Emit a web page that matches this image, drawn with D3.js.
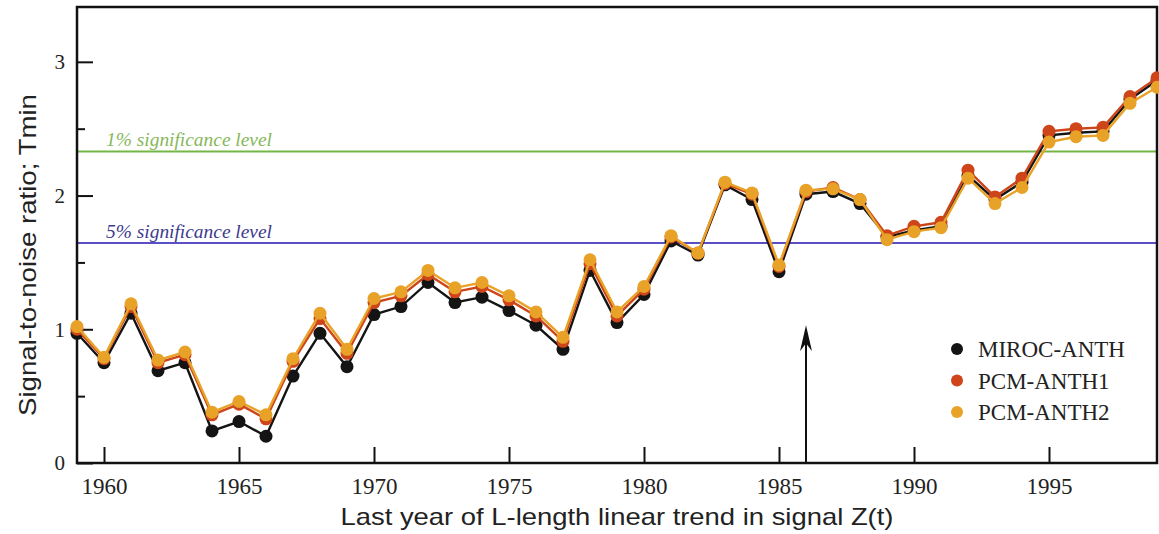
<!DOCTYPE html>
<html>
<head>
<meta charset="utf-8">
<script src="https://cdn.jsdelivr.net/npm/d3@7"></script>
<style>
  body { margin: 0; background: #fff; }
  svg { display: block; }
</style>
</head>
<body>
<div id="chart"></div>
<script>
// data, one value per year 1959-1999
var years = d3.range(1959, 2000);
var miroc = [0.97, 0.75, 1.12, 0.69, 0.75, 0.24, 0.31, 0.20, 0.65, 0.97,
             0.72, 1.11, 1.17, 1.35, 1.20, 1.24, 1.14, 1.03, 0.85, 1.44,
             1.05, 1.26, 1.66, 1.555, 2.08, 1.97, 1.43, 2.01, 2.03, 1.94,
             1.69, 1.74, 1.77, 2.15, 1.97, 2.10, 2.45, 2.47, 2.48, 2.72, 2.86];
var pcm1  = [1.00, 0.78, 1.17, 0.75, 0.81, 0.36, 0.44, 0.33, 0.76, 1.08,
             0.82, 1.20, 1.25, 1.41, 1.28, 1.32, 1.22, 1.10, 0.91, 1.49,
             1.10, 1.30, 1.69, 1.57, 2.09, 2.01, 1.47, 2.03, 2.06, 1.97,
             1.70, 1.77, 1.80, 2.19, 1.99, 2.13, 2.48, 2.50, 2.51, 2.74, 2.88];
var pcm2  = [1.02, 0.79, 1.19, 0.77, 0.83, 0.38, 0.46, 0.36, 0.78, 1.12,
             0.85, 1.23, 1.28, 1.44, 1.31, 1.35, 1.25, 1.13, 0.94, 1.52,
             1.13, 1.32, 1.70, 1.57, 2.10, 2.02, 1.48, 2.04, 2.05, 1.97,
             1.67, 1.73, 1.76, 2.13, 1.94, 2.06, 2.40, 2.44, 2.45, 2.69, 2.81];
var seriesNames = ["MIROC-ANTH", "PCM-ANTH1", "PCM-ANTH2"];
var seriesColors = ["#141414", "#cd4519", "#e8a228"];
var xTicks = [1960, 1965, 1970, 1975, 1980, 1985, 1990, 1995];
var yTicks = [0, 1, 2, 3];
var yMinor = [0.5, 1.5, 2.5];
var levels = [{ v: 2.33, label: "1% significance level", line: "#74b545", text: "#86b85a" },
              { v: 1.645, label: "5% significance level", line: "#5a4fc4", text: "#3e3a8e" }];
var arrowYear = 1986;

var W = 1159, H = 534;
var margin = { top: 7, right: 2, bottom: 71, left: 77 };
var w = W - margin.left - margin.right,
    h = H - margin.top - margin.bottom;
var serif = "'Liberation Serif', 'Times New Roman', serif",
    sans = "'Liberation Sans', Arial, sans-serif";

var svg = d3.select("#chart").append("svg")
  .attr("width", W).attr("height", H);
var g = svg.append("g")
  .attr("transform", "translate(" + margin.left + "," + margin.top + ")");

var x = d3.scaleLinear().domain([1959, 1999]).range([0, w]);
var y = d3.scaleLinear().domain([0, 3.41]).range([h, 0]);

// significance levels
levels.forEach(function(d) {
  g.append("line")
    .attr("x1", 0).attr("x2", w)
    .attr("y1", y(d.v)).attr("y2", y(d.v))
    .attr("stroke", d.line).attr("stroke-width", 2);
  g.append("text")
    .attr("x", 29).attr("y", y(d.v) - 5)
    .attr("fill", d.text)
    .attr("textLength", 166).attr("lengthAdjust", "spacingAndGlyphs")
    .style("font-family", serif)
    .style("font-style", "italic")
    .style("font-size", "19px")
    .text(d.label);
});

// axes with inward ticks
g.append("g").attr("class", "xax")
  .attr("transform", "translate(0," + h + ")")
  .call(d3.axisBottom(x).tickValues(xTicks).tickFormat(d3.format("d"))
    .tickSize(-16).tickPadding(15));
g.append("g").attr("class", "yax")
  .call(d3.axisLeft(y).tickValues(yTicks).tickFormat(d3.format("d"))
    .tickSize(-16).tickPadding(12));
g.append("g")
  .call(d3.axisLeft(y).tickValues(yMinor).tickFormat("").tickSize(-8));

g.selectAll(".domain").remove();
g.selectAll(".tick line").attr("stroke", "#111").attr("stroke-width", 2);
g.selectAll(".tick text")
  .attr("fill", "#222")
  .style("font-family", serif);
g.selectAll(".xax .tick text").style("font-size", "23px");
g.selectAll(".yax .tick text").style("font-size", "21px");

// frame
g.append("rect")
  .attr("width", w).attr("height", h)
  .attr("fill", "none").attr("stroke", "#111").attr("stroke-width", 2.5);

// arrow at 1986
var ax = x(arrowYear);
var tipY = y(1.03);
g.append("line")
  .attr("x1", ax).attr("x2", ax)
  .attr("y1", h).attr("y2", tipY + 10)
  .attr("stroke", "#111").attr("stroke-width", 2);
g.append("path")
  .attr("d", "M" + ax + "," + tipY + " L" + (ax + 6) + "," + (tipY + 26) +
             " L" + ax + "," + (tipY + 18) + " L" + (ax - 6) + "," + (tipY + 26) + " Z")
  .attr("fill", "#111");

// series lines and markers
var allSeries = [miroc, pcm1, pcm2];
var line = d3.line()
  .x(function(d, i) { return x(years[i]); })
  .y(function(d) { return y(d); });

allSeries.forEach(function(vals, k) {
  g.append("path")
    .datum(vals)
    .attr("d", line)
    .attr("fill", "none")
    .attr("stroke", seriesColors[k])
    .attr("stroke-width", 2.4);
  g.selectAll(".pt" + k)
    .data(vals)
    .enter().append("circle")
    .attr("class", "pt" + k)
    .attr("cx", function(d, i) { return x(years[i]); })
    .attr("cy", function(d) { return y(d); })
    .attr("r", 6.5)
    .attr("fill", seriesColors[k]);
});

// legend
var legend = g.append("g").attr("transform", "translate(" + (957 - margin.left) + "," + (349 - margin.top) + ")");
seriesNames.forEach(function(name, k) {
  legend.append("circle")
    .attr("cx", 0).attr("cy", k * 31.5)
    .attr("r", 6).attr("fill", seriesColors[k]);
  legend.append("text")
    .attr("x", 21).attr("y", k * 31.5 + 8)
    .attr("fill", "#222")
    .style("font-family", serif)
    .style("font-size", "23px")
    .text(name);
});

// axis titles
svg.append("text")
  .attr("x", margin.left + w / 2).attr("y", 525)
  .attr("text-anchor", "middle")
  .attr("fill", "#222")
  .attr("textLength", 553).attr("lengthAdjust", "spacingAndGlyphs")
  .style("font-family", sans)
  .style("font-size", "24px")
  .text("Last year of L-length linear trend in signal Z(t)");

svg.append("text")
  .attr("transform", "translate(36,255) rotate(-90)")
  .attr("text-anchor", "middle")
  .attr("fill", "#222")
  .attr("textLength", 322).attr("lengthAdjust", "spacingAndGlyphs")
  .style("font-family", sans)
  .style("font-size", "24px")
  .text("Signal-to-noise ratio; Tmin");
</script>
</body>
</html>
